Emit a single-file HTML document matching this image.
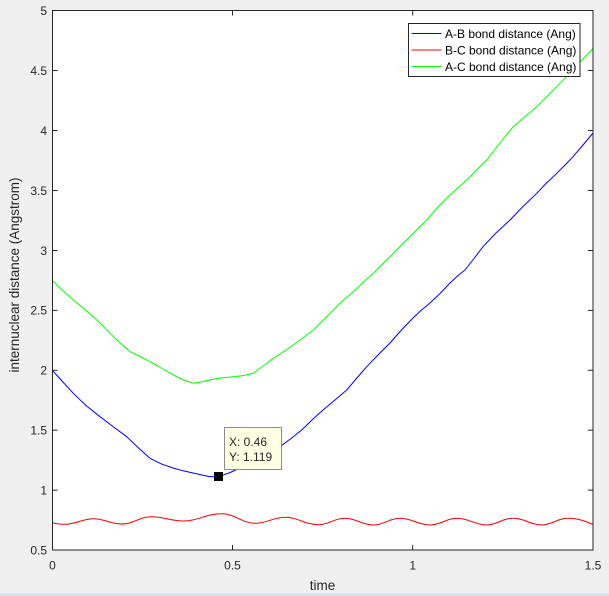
<!DOCTYPE html>
<html>
<head>
<meta charset="utf-8">
<style>
html,body{margin:0;padding:0;background:#f0f0f0;}
body{width:609px;height:596px;overflow:hidden;position:relative;font-family:"Liberation Sans",Arial,sans-serif;}
svg{position:absolute;left:0;top:0;}
</style>
</head>
<body>
<svg width="609" height="596" viewBox="0 0 609 596" xmlns="http://www.w3.org/2000/svg" font-family="Liberation Sans, Arial, sans-serif">
  <rect x="0" y="0" width="609" height="596" fill="#f0f0f0"/>
  <rect x="0" y="593" width="609" height="3" fill="#dbe5f1"/>
  <!-- plot area -->
  <rect x="52.5" y="10.5" width="540.5" height="539.5" fill="#ffffff"/>

  <!-- series -->
  <polyline fill="none" stroke="#00ff00" stroke-width="1" stroke-linejoin="round"
    points="52.3,280.5 62,290 73.3,300 83,308 93.3,316.7 101,324 110,333.3 120,343 130,351.7 140,356.5 150,361.7 162,368.5 173.3,375 183,379.8 193.3,383.3 203,381.5 213.3,379.3 223,377.8 233.3,376.7 243,375.6 253.3,373.3 263,366 273.3,358.3 286,350 300,340 313.3,330 323,320.5 333.3,310 343,300.5 353.3,291.7 363,282.5 373.3,273.3 381,265.5 390,256.7 400,246.5 408,238.5 416.7,230 426.7,220 438,207 450,195 460,186 470,176.7 478,168.5 486.7,160 500,143 513.3,126.7 525,116.5 536.7,106.7 548,95.5 560,83.3 572,71 583,59 593,48.5"/>
  <polyline fill="none" stroke="#0000ff" stroke-width="1" stroke-linejoin="round"
    points="52,370 62,381 73.3,393.3 86,405.5 100,416.7 113,426.5 126.7,436.7 138,447.5 150,458.3 161,463.8 173,468 183,470.8 193,473 202,475 210,476.7 218.3,476.5 229,473 240,468 250,463.5 260,458 270,452.5 280,446.7 291,438.5 301.7,430 312,420 323,410 335,400 346.7,390 356,379 366.7,366.7 378,355 390,343 401,330.5 413,318 421,310.5 430,303 440,293.5 450,283 458,275.5 465,270 474,258.5 483,246.7 496,233 510,220 523,206.5 536.7,193.3 546,183.5 556.7,173.3 565,165 573,156.7 583,145 593,133"/>
  <path fill="none" stroke="#ff0000" stroke-width="1"
    d="M52.5,522.6 C56,523.8 60,524.3 65,524.3
       C76,524.3 82,518.7 93.3,518.7
       C105,518.7 110,524 121.7,524
       C134,524 139,516.7 151.7,516.7
       C164,516.7 171,521 183.3,521
       C198,521 206,513.7 221.7,513.7
       C235,513.7 242,523.3 255,523.3
       C267,523.3 273,517.3 285,517.3
       C298,517.3 305,524.7 318.3,524.7
       C329,524.7 334,518.3 345,518.3
       C356,518.3 362,525 373.3,525
       C384,525 389,518.3 400,518.3
       C412,518.3 418,525 430,525
       C441,525 446,518.3 456.7,518.3
       C469,518.3 475,525 486.7,525
       C497,525 502,518.3 513.3,518.3
       C525,518.3 530,525 541.7,525
       C552,525 557,518.3 568.3,518.3
       C578,518.3 585,521 593,524.5"/>

  <!-- axes box -->
  <rect x="52.5" y="10.5" width="540.5" height="539.5" fill="none" stroke="#262626" stroke-width="1"/>

  <!-- y ticks -->
  <g stroke="#262626" stroke-width="1">
    <line x1="52.5" y1="490.1" x2="57.5" y2="490.1"/><line x1="593" y1="490.1" x2="588" y2="490.1"/>
    <line x1="52.5" y1="430.2" x2="57.5" y2="430.2"/><line x1="593" y1="430.2" x2="588" y2="430.2"/>
    <line x1="52.5" y1="370.3" x2="57.5" y2="370.3"/><line x1="593" y1="370.3" x2="588" y2="370.3"/>
    <line x1="52.5" y1="310.4" x2="57.5" y2="310.4"/><line x1="593" y1="310.4" x2="588" y2="310.4"/>
    <line x1="52.5" y1="250.5" x2="57.5" y2="250.5"/><line x1="593" y1="250.5" x2="588" y2="250.5"/>
    <line x1="52.5" y1="190.5" x2="57.5" y2="190.5"/><line x1="593" y1="190.5" x2="588" y2="190.5"/>
    <line x1="52.5" y1="130.5" x2="57.5" y2="130.5"/><line x1="593" y1="130.5" x2="588" y2="130.5"/>
    <line x1="52.5" y1="70.5" x2="57.5" y2="70.5"/><line x1="593" y1="70.5" x2="588" y2="70.5"/>
    <!-- x ticks -->
    <line x1="232.5" y1="550" x2="232.5" y2="545"/><line x1="232.5" y1="10.5" x2="232.5" y2="15.5"/>
    <line x1="412.7" y1="550" x2="412.7" y2="545"/><line x1="412.7" y1="10.5" x2="412.7" y2="15.5"/>
  </g>

  <!-- y tick labels -->
  <g fill="#262626" font-size="12" text-anchor="end">
    <text x="47" y="554.3">0.5</text>
    <text x="47" y="494.4">1</text>
    <text x="47" y="434.5">1.5</text>
    <text x="47" y="374.6">2</text>
    <text x="47" y="314.7">2.5</text>
    <text x="47" y="254.8">3</text>
    <text x="47" y="194.8">3.5</text>
    <text x="47" y="134.8">4</text>
    <text x="47" y="74.8">4.5</text>
    <text x="47" y="14.8">5</text>
  </g>
  <!-- x tick labels -->
  <g fill="#262626" font-size="12" text-anchor="middle">
    <text x="52.5" y="569.5">0</text>
    <text x="232.5" y="569.5">0.5</text>
    <text x="412.7" y="569.5">1</text>
    <text x="593" y="569.5">1.5</text>
  </g>

  <!-- axis labels -->
  <text x="322.5" y="590" fill="#262626" font-size="13.5" text-anchor="middle">time</text>
  <text transform="translate(19,275) rotate(-90)" fill="#262626" font-size="13.5" text-anchor="middle">internuclear distance (Angstrom)</text>

  <!-- datatip -->
  <rect x="214" y="472" width="9" height="9" fill="#000000"/>
  <rect x="224.5" y="427.5" width="57" height="42" fill="#ffffe3" stroke="#8c8c8c" stroke-width="1"/>
  <text x="229" y="446" fill="#262626" font-size="12">X: 0.46</text>
  <text x="229" y="461" fill="#262626" font-size="12">Y: 1.119</text>

  <!-- legend -->
  <rect x="408.5" y="23.5" width="171.5" height="53" fill="#ffffff" stroke="#262626" stroke-width="1"/>
  <line x1="411.5" y1="33.5" x2="441.5" y2="33.5" stroke="#0000ff" stroke-width="1"/>
  <line x1="411.5" y1="50" x2="441.5" y2="50" stroke="#ff0000" stroke-width="1"/>
  <line x1="411.5" y1="66.5" x2="441.5" y2="66.5" stroke="#00ff00" stroke-width="1"/>
  <g fill="#000000" font-size="12">
    <text x="445" y="37.8">A-B bond distance (Ang)</text>
    <text x="445" y="54.3">B-C bond distance (Ang)</text>
    <text x="445" y="70.8">A-C bond distance (Ang)</text>
  </g>
</svg>
</body>
</html>
